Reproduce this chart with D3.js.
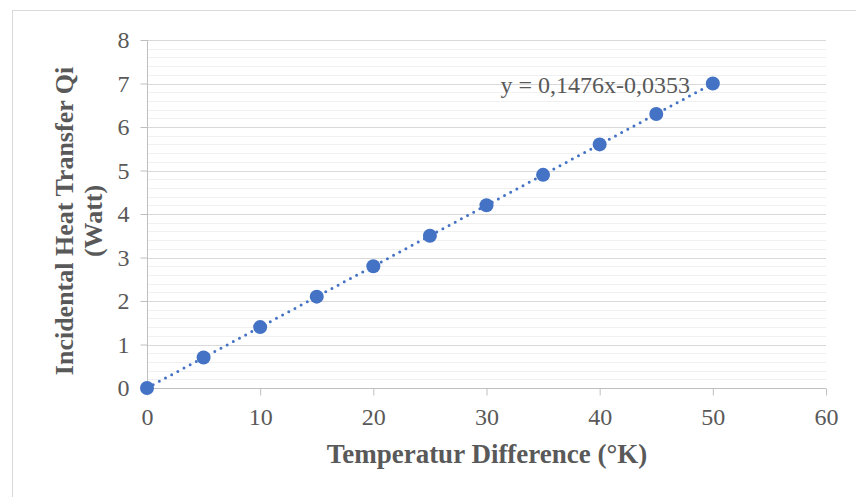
<!DOCTYPE html>
<html>
<head>
<meta charset="utf-8">
<script src="https://cdn.jsdelivr.net/npm/d3@7/dist/d3.min.js"></script>
<style>
  html, body { margin: 0; padding: 0; background: #fff; }
  svg { display: block; }
  text { font-family: "Liberation Serif", "Times New Roman", serif; fill: #595959; }
</style>
</head>
<body>
<svg id="chart" width="856" height="497"></svg>
<script>
// Measured temperature difference (°K) and incidental heat transfer Qi (Watt)
const tempDiff = [0, 5, 10, 15, 20, 25, 30, 35, 40, 45, 50];
const heatQi   = [0, 0.7, 1.4, 2.1, 2.8, 3.5, 4.2, 4.9, 5.6, 6.3, 7.0];
const xTicks = [0, 10, 20, 30, 40, 50, 60];
const yTicks = [0, 1, 2, 3, 4, 5, 6, 7, 8];
const trendLabel = "y = 0,1476x-0,0353";
const xTitle = "Temperatur Difference (°K)";
const yTitleLines = ["Incidental Heat Transfer Qi", "(Watt)"];

const svg = d3.select("#chart");
const blue = "#4472C4";

// chart frame
svg.append("rect")
  .attr("x", 12.5).attr("y", 10.5)
  .attr("width", 860).attr("height", 520)
  .attr("fill", "#fff").attr("stroke", "#d9d9d9").attr("stroke-width", 1);

const x = d3.scaleLinear().domain([0, 60]).range([147, 826]);
const y = d3.scaleLinear().domain([0, 8]).range([388, 40]);

// minor gridlines every 0.2
const minor = d3.range(0, 8.001, 0.2).filter(v => Math.abs(v - Math.round(v)) > 1e-6);
svg.append("g").selectAll("line").data(minor).join("line")
  .attr("x1", x(0)).attr("x2", x(60))
  .attr("y1", d => Math.round(y(d)) + 0.5).attr("y2", d => Math.round(y(d)) + 0.5)
  .attr("stroke", "#f0f0f0").attr("stroke-width", 1);

// major gridlines
svg.append("g").selectAll("line").data(yTicks.filter(d => d > 0)).join("line")
  .attr("x1", x(0)).attr("x2", x(60))
  .attr("y1", d => Math.round(y(d)) + 0.5).attr("y2", d => Math.round(y(d)) + 0.5)
  .attr("stroke", "#d9d9d9").attr("stroke-width", 1);

// y axis
const yAxis = svg.append("g")
  .attr("transform", `translate(${x(0) + 0.5},0)`)
  .call(d3.axisLeft(y).tickValues(yTicks).tickSize(7).tickPadding(11).tickFormat(d3.format("d")));
yAxis.select(".domain").attr("stroke", "#bfbfbf").attr("d", `M0,${y(8)}V${y(0)}`);
yAxis.selectAll(".tick line").attr("stroke", "#bfbfbf");
yAxis.selectAll(".tick text")
  .attr("font-size", 24).attr("fill", "#595959")
  .style("font-family", "'Liberation Serif', serif").attr("dy", "0.33em");

// x axis
const xAxis = svg.append("g")
  .attr("transform", `translate(0,${Math.round(y(0)) + 0.5})`)
  .call(d3.axisBottom(x).tickValues(xTicks).tickSize(7).tickPadding(12).tickFormat(d3.format("d")));
xAxis.select(".domain").attr("stroke", "#bfbfbf").attr("d", `M${x(0)},0H${x(60)}`);
xAxis.selectAll(".tick line").attr("stroke", "#bfbfbf");
xAxis.selectAll(".tick text")
  .attr("font-size", 24).attr("fill", "#595959")
  .style("font-family", "'Liberation Serif', serif");

// least-squares trendline through the measurements
const mx = d3.mean(tempDiff), my = d3.mean(heatQi);
const slope = d3.sum(tempDiff, (t, i) => (t - mx) * (heatQi[i] - my)) /
              d3.sum(tempDiff, t => (t - mx) * (t - mx));
const icpt = my - slope * mx;
const xs = [d3.min(tempDiff), d3.max(tempDiff)];
svg.append("line")
  .attr("x1", x(xs[0])).attr("y1", y(slope * xs[0] + icpt))
  .attr("x2", x(xs[1])).attr("y2", y(slope * xs[1] + icpt))
  .attr("stroke", blue).attr("stroke-width", 3)
  .attr("stroke-linecap", "round").attr("stroke-dasharray", "0 7");

// data points
svg.append("g").selectAll("circle").data(tempDiff).join("circle")
  .attr("cx", d => x(d)).attr("cy", (d, i) => y(heatQi[i]))
  .attr("r", 7).attr("fill", blue);

// trendline equation
svg.append("text")
  .attr("x", 690).attr("y", 93)
  .attr("text-anchor", "end").attr("font-size", 24)
  .text(trendLabel);

// axis titles
svg.append("text")
  .attr("x", 487).attr("y", 463)
  .attr("text-anchor", "middle").attr("font-size", 27).attr("font-weight", "bold")
  .text(xTitle);

const yT = svg.append("text")
  .attr("transform", `translate(73,221) rotate(-90)`)
  .attr("text-anchor", "middle").attr("font-size", 26).attr("font-weight", "bold");
yT.append("tspan").attr("x", 0).attr("y", 0).text(yTitleLines[0]);
yT.append("tspan").attr("x", 0).attr("y", 29).text(yTitleLines[1]);
</script>
</body>
</html>
